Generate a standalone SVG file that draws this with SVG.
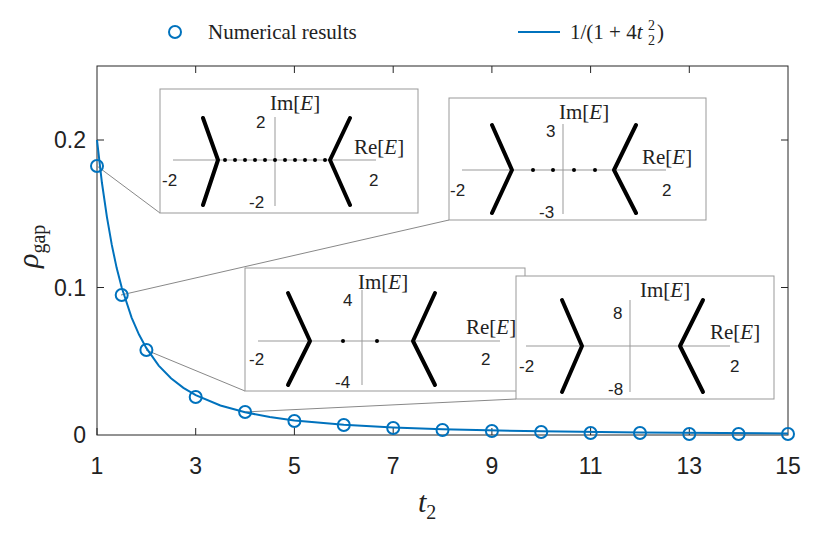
<svg xmlns="http://www.w3.org/2000/svg" width="830" height="536" viewBox="0 0 830 536">
<style>
.s{font-family:"Liberation Sans",Arial,sans-serif;fill:#222}
.r{font-family:"Liberation Serif","Times New Roman",serif;fill:#222}
.ax{fill:none;stroke:#262626;stroke-width:1}
.c{fill:none;stroke:#0072BD;stroke-width:2}
.ib{fill:#fff;stroke:#999;stroke-width:1}
.ia{stroke:#999;stroke-width:1;fill:none}
.br{fill:none;stroke:#000;stroke-width:4;stroke-linecap:round;stroke-linejoin:round}
.cn{stroke:#888;stroke-width:1;fill:none}
.t{font-size:17px}
.tr{font-size:21px}
</style>
<rect width="830" height="536" fill="#fff"/>
<g id="axes">
<rect x="97" y="66" width="691" height="369" class="ax"/>
<path class="ax" d="M97,435v-7M195.7,435v-7M294.4,435v-7M393.2,435v-7M491.9,435v-7M590.6,435v-7M689.3,435v-7M195.7,66v7M294.4,66v7M393.2,66v7M491.9,66v7M590.6,66v7M689.3,66v7M97,287.5h7M97,140h7M788,287.5h-7M788,140h-7"/>
<g class="s" font-size="23" text-anchor="middle">
<text x="97" y="474">1</text><text x="195.7" y="474">3</text><text x="294.4" y="474">5</text><text x="393.2" y="474">7</text><text x="491.9" y="474">9</text><text x="590.6" y="474">11</text><text x="689.3" y="474">13</text><text x="788" y="474">15</text>
</g>
<g class="s" font-size="23" text-anchor="end">
<text x="86" y="443">0</text><text x="86" y="296">0.1</text><text x="86" y="148">0.2</text>
</g>
<text class="r" font-size="30" font-style="italic" x="418" y="512">t<tspan font-style="normal" font-size="20" dy="7">2</tspan></text>
<text class="r" font-size="30" transform="translate(38,268) rotate(-90)"><tspan font-style="italic">ρ</tspan><tspan font-size="20" dy="7">gap</tspan></text>
</g>
<g id="connectors">
<path class="cn" d="M97,166L160,213M121,295L449,220M146,350L245,391M244,412L516,399"/>
</g>
<g id="curve">
<path class="c" d="M97,140L101.9,182.5L106.9,216.8L111.8,244.9L116.7,268.1L121.7,287.5L131.6,317.6L139,334.6L146.4,348.2L158.7,365.6L171,378.3L183.4,387.8L195.7,395.1L220.4,405.5L245.1,412.3L269.8,417L294.4,420.4L343.8,424.8L393.2,427.5L442.5,429.3L541.2,431.3L640,432.4L788,433.4"/>
</g>
<g id="points" class="c">
<circle cx="97" cy="166" r="6"/><circle cx="121.7" cy="295" r="6"/><circle cx="146.4" cy="350" r="6"/><circle cx="195.7" cy="397" r="6"/><circle cx="245.1" cy="412" r="6"/><circle cx="294.4" cy="421" r="6"/><circle cx="343.8" cy="425" r="6"/><circle cx="393.2" cy="428" r="6"/><circle cx="442.5" cy="430" r="6"/><circle cx="491.9" cy="431" r="6"/><circle cx="541.2" cy="432" r="6"/><circle cx="590.6" cy="433" r="6"/><circle cx="640" cy="433" r="6"/><circle cx="689.3" cy="434" r="6"/><circle cx="738.6" cy="434" r="6"/><circle cx="788" cy="434" r="6"/>
</g>
<g id="legend">
<circle cx="175" cy="32" r="6" class="c"/>
<text class="r" font-size="21" x="208" y="39">Numerical results</text>
<path class="c" d="M518,32h42"/>
<text class="r" font-size="21" x="570" y="39">1/(1 + 4<tspan font-style="italic">t</tspan></text>
<text class="r" font-size="14" x="648" y="30">2</text>
<text class="r" font-size="14" x="648" y="45">2</text>
<text class="r" font-size="21" x="657" y="39">)</text>
</g>
<g id="inset1">
<rect class="ib" x="160" y="89" width="258" height="124"/>
<path class="ia" d="M275,117V206M173,160H376"/>
<path class="br" d="M203,118L218,160L203,205M350,118L330,160L350,205"/>
<g fill="#000"><circle cx="225" cy="160" r="2"/><circle cx="235" cy="160" r="2"/><circle cx="245" cy="160" r="2"/><circle cx="255" cy="160" r="2"/><circle cx="265" cy="160" r="2"/><circle cx="275" cy="160" r="2"/><circle cx="285" cy="160" r="2"/><circle cx="295" cy="160" r="2"/><circle cx="305" cy="160" r="2"/><circle cx="315" cy="160" r="2"/><circle cx="325" cy="160" r="2"/></g>
<text class="r tr" x="270" y="110">Im[<tspan font-style="italic">E</tspan>]</text>
<text class="r tr" x="354" y="154">Re[<tspan font-style="italic">E</tspan>]</text>
<text class="s t" x="256" y="128">2</text><text class="s t" x="162" y="186">-2</text><text class="s t" x="369" y="186">2</text><text class="s t" x="249" y="208">-2</text>
</g>
<g id="inset2">
<rect class="ib" x="449" y="98" width="257" height="122"/>
<path class="ia" d="M563,124V214M462,170H666"/>
<path class="br" d="M492,125L512,170L492,213M636,125L614,170L636,213"/>
<g fill="#000"><circle cx="533" cy="170" r="2"/><circle cx="553" cy="170" r="2"/><circle cx="574" cy="170" r="2"/><circle cx="595" cy="170" r="2"/></g>
<text class="r tr" x="559" y="119">Im[<tspan font-style="italic">E</tspan>]</text>
<text class="r tr" x="642" y="164">Re[<tspan font-style="italic">E</tspan>]</text>
<text class="s t" x="546" y="137">3</text><text class="s t" x="450" y="196">-2</text><text class="s t" x="662" y="196">2</text><text class="s t" x="539" y="218">-3</text>
</g>
<g id="inset3">
<rect class="ib" x="245" y="268" width="280" height="123"/>
<path class="ia" d="M362,290V385M258,341H500"/>
<path class="br" d="M288,293L310,341L288,385M435,293L413,341L435,385"/>
<g fill="#000"><circle cx="343" cy="341" r="2"/><circle cx="377" cy="341" r="2"/></g>
<text class="r tr" x="358" y="289">Im[<tspan font-style="italic">E</tspan>]</text>
<text class="r tr" x="466" y="334">Re[<tspan font-style="italic">E</tspan>]</text>
<text class="s t" x="343" y="306">4</text><text class="s t" x="249" y="365">-2</text><text class="s t" x="481" y="365">2</text><text class="s t" x="335" y="388">-4</text>
</g>
<g id="inset4">
<rect class="ib" x="516" y="276" width="258" height="123"/>
<path class="ia" d="M630,300V392M526,346H730"/>
<path class="br" d="M562,300L582,346L562,392M703,300L680,346L703,392"/>
<text class="r tr" x="640" y="297">Im[<tspan font-style="italic">E</tspan>]</text>
<text class="r tr" x="710" y="339">Re[<tspan font-style="italic">E</tspan>]</text>
<text class="s t" x="613" y="319">8</text><text class="s t" x="519" y="372">-2</text><text class="s t" x="730" y="372">2</text><text class="s t" x="608" y="395">-8</text>
</g>
</svg>
